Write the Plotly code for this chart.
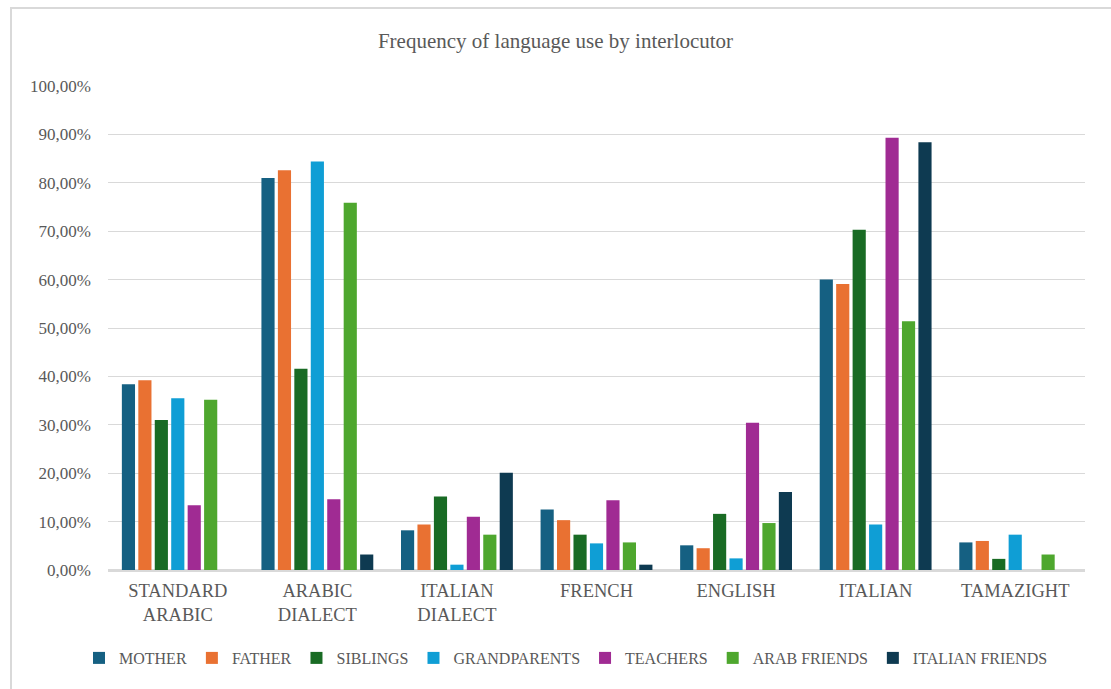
import plotly.graph_objects as go

# Languages on the x axis
languages = ["STANDARD<br>ARABIC", "ARABIC<br>DIALECT", "ITALIAN<br>DIALECT",
             "FRENCH", "ENGLISH", "ITALIAN", "TAMAZIGHT"]

# Share of respondents (%) using each language with each interlocutor
mother          = [38.4, 81.0,  8.2, 12.5,  5.1, 60.0, 5.7]
father          = [39.2, 82.6,  9.4, 10.3,  4.5, 59.1, 6.0]
siblings        = [31.0, 41.6, 15.2,  7.3, 11.6, 70.3, 2.3]
grandparents    = [35.5, 84.4,  1.1,  5.5,  2.4,  9.4, 7.3]
teachers        = [13.4, 14.6, 11.0, 14.4, 30.4, 89.3, 0.0]
arab_friends    = [35.2, 75.9,  7.3,  5.7,  9.7, 51.4, 3.2]
italian_friends = [ 0.0,  3.2, 20.1,  1.1, 16.1, 88.4, 0.0]

series = [
    ("MOTHER", mother, "#156082"),
    ("FATHER", father, "#E97132"),
    ("SIBLINGS", siblings, "#196B24"),
    ("GRANDPARENTS", grandparents, "#0F9ED5"),
    ("TEACHERS", teachers, "#A02B93"),
    ("ARAB FRIENDS", arab_friends, "#4EA72E"),
    ("ITALIAN FRIENDS", italian_friends, "#0E3A51"),
]

FONT = "Liberation Serif, DejaVu Serif, serif"
GREY = "#595959"

fig = go.Figure()
for name, values, color in series:
    fig.add_trace(go.Bar(
        name=name, x=languages, y=values,
        marker=dict(color=color, line=dict(width=0)),
    ))

fig.update_layout(
    width=1111, height=689,
    margin=dict(l=108, r=26, t=86, b=119, autoexpand=False),
    paper_bgcolor="white", plot_bgcolor="white",
    separators=",.",
    font=dict(family=FONT, color=GREY, size=16),
    barmode="group", bargap=0.175, bargroupgap=0.2,
    title=dict(text="Frequency of language use by interlocutor",
               x=0.5, xref="container", xanchor="center",
               y=1 - 41 / 689, yref="container", yanchor="middle",
               font=dict(family=FONT, size=21, color=GREY)),
    legend=dict(orientation="h",
                x=(566 - 108) / 977, xanchor="center",
                y=-(658 - 570) / 484, yanchor="middle",
                font=dict(family=FONT, size=16, color=GREY),
                itemwidth=30, tracegroupgap=0, traceorder="normal"),
    showlegend=True,
)

fig.update_yaxes(
    range=[0, 100], dtick=10, tick0=0,
    tickformat=".2f", ticksuffix="%",
    showgrid=True, gridcolor="#d9d9d9", gridwidth=1.4,
    zeroline=True, zerolinecolor="#d9d9d9", zerolinewidth=1.5,
    ticks="", ticklabelstandoff=16, automargin=False,
    tickfont=dict(family=FONT, size=17, color=GREY),
    showline=False,
)
fig.update_xaxes(
    showgrid=False, ticks="", showline=True, linecolor="#d9d9d9", linewidth=1.5,
    tickfont=dict(family=FONT, size=18.5, color=GREY),
    ticklabelstandoff=3, automargin=False,
)

# Chart frame
fig.add_shape(type="rect", xref="paper", yref="paper",
              x0=(11 - 108) / 977, x1=1.2, y0=-0.5, y1=(570 - 8) / 484,
              line=dict(color="#d9d9d9", width=2), fillcolor="rgba(0,0,0,0)",
              layer="below")

fig.write_html("out.html")
